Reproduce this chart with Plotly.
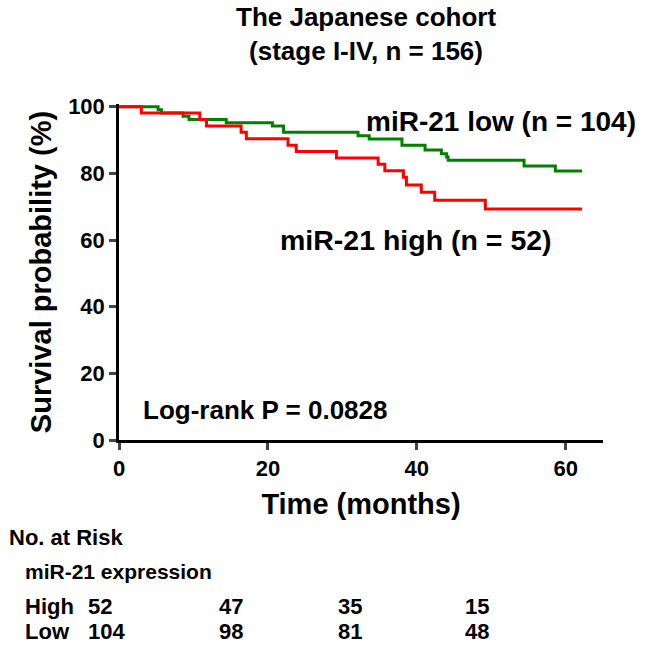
import plotly.graph_objects as go

# ---- data ----
high_time = [0, 3.0, 10.85, 11.75, 16.4, 17.1, 22.7, 23.8, 29.2, 34.8, 35.7, 38.2, 38.6, 40.6, 42.4, 49.2, 62.2]
high_surv = [100, 98.08, 96.15, 94.23, 92.31, 90.38, 88.46, 86.54, 84.62, 82.69, 80.77, 78.8, 76.5, 74.3, 71.9, 69.3, 69.3]

low_time = [0, 5.25, 5.7, 8.6, 9.4, 14.4, 20.6, 22.1, 32.1, 33.6, 38.0, 41.1, 43.3, 44.0, 44.2, 54.4, 58.6, 62.2]
low_surv = [100, 99.04, 98.08, 97.12, 96.15, 95.19, 94.2, 92.3, 91.3, 90.3, 88.4, 87.0, 85.9, 84.9, 83.9, 82.2, 80.7, 80.7]

risk_times = [0, 20, 40, 60]
risk_high = [52, 47, 35, 15]
risk_low = [104, 98, 81, 48]

x_ticks = [0, 20, 40, 60]
y_ticks = [0, 20, 40, 60, 80, 100]

FONT = "Arial, Liberation Sans, sans-serif"

def b(s):
    return "<b>" + str(s) + "</b>"

fig = go.Figure()
fig.add_trace(go.Scatter(x=low_time, y=low_surv, mode="lines", line_shape="hv",
                         line=dict(color="#008000", width=3), name="miR-21 low (n = 104)"))
fig.add_trace(go.Scatter(x=high_time, y=high_surv, mode="lines", line_shape="hv",
                         line=dict(color="#ff0000", width=3), name="miR-21 high (n = 52)"))

W, H = 652, 649
L, R, T, B = 119, 49, 104, 209
pw, ph = W - L - R, H - T - B

def px(x):
    return (x - L) / pw

def py(y):
    return (H - B - y) / ph

def f(size):
    return dict(size=size, family=FONT, color="black")

annotations = [
    dict(text=b("The Japanese cohort") + "<br>" + b("(stage I-IV, n = 156)"), x=px(366), y=py(34),
         xref="paper", yref="paper", xanchor="center", yanchor="middle", showarrow=False, font=f(26)),
    dict(text=b("miR-21 low (n = 104)"), x=51.3, y=95.6, xref="x", yref="y", showarrow=False,
         xanchor="center", yanchor="middle", font=f(28)),
    dict(text=b("miR-21 high (n = 52)"), x=39.9, y=60.1, xref="x", yref="y", showarrow=False,
         xanchor="center", yanchor="middle", font=f(28.5)),
    dict(text=b("Log-rank P = 0.0828"), x=19.6, y=9.0, xref="x", yref="y", showarrow=False,
         xanchor="center", yanchor="middle", font=f(26)),
    dict(text=b("No. at Risk"), x=px(7), y=py(537), xref="paper", yref="paper", xanchor="left",
         yanchor="middle", showarrow=False, font=f(22)),
    dict(text=b("miR-21 expression"), x=px(23), y=py(571), xref="paper", yref="paper", xanchor="left",
         yanchor="middle", showarrow=False, font=f(21)),
    dict(text=b("High"), x=px(23), y=py(606), xref="paper", yref="paper", xanchor="left",
         yanchor="middle", showarrow=False, font=f(22)),
    dict(text=b("Low"), x=px(23), y=py(631), xref="paper", yref="paper", xanchor="left",
         yanchor="middle", showarrow=False, font=f(22)),
]
col_left = [86, 217, 336, 463]
for i, t in enumerate(risk_times):
    annotations.append(dict(text=b(risk_high[i]), x=px(col_left[i]), y=py(606), xref="paper", yref="paper",
                            xanchor="left", yanchor="middle", showarrow=False, font=f(22)))
    annotations.append(dict(text=b(risk_low[i]), x=px(col_left[i]), y=py(631), xref="paper", yref="paper",
                            xanchor="left", yanchor="middle", showarrow=False, font=f(22)))

fig.update_layout(
    width=W, height=H,
    margin=dict(l=L, r=R, t=T, b=B),
    paper_bgcolor="white", plot_bgcolor="white",
    showlegend=False,
    font=dict(family=FONT, color="black"),
    annotations=annotations,
    xaxis=dict(range=[0, 65], tickvals=x_ticks, ticktext=[b(v) for v in x_ticks],
               ticks="outside", ticklen=7, tickwidth=2.5,
               showline=True, linewidth=2.5, linecolor="black", showgrid=False, zeroline=False,
               tickfont=f(22),
               title=dict(text=b("Time (months)"), standoff=14, font=f(29))),
    yaxis=dict(range=[0, 100.8], tickvals=y_ticks, ticktext=[b(v) for v in y_ticks],
               ticks="outside", ticklen=7, tickwidth=2.5,
               showline=True, linewidth=2.5, linecolor="black", showgrid=False, zeroline=False,
               tickfont=f(22),
               title=dict(text=b("Survival probability (%)"), standoff=8, font=f(29))),
)

fig.write_html("out.html")
